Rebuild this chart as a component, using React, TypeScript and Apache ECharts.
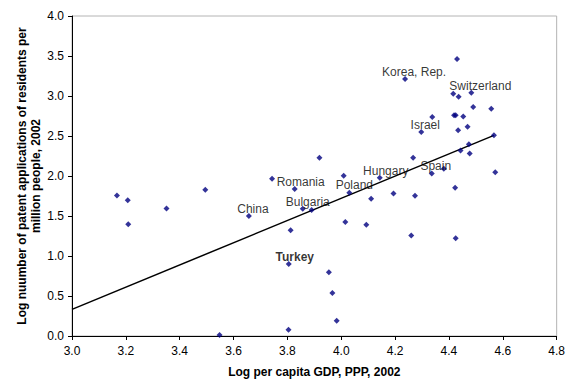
import React, { useEffect, useRef } from "react";
import * as echarts from "echarts";

const gdp = [
  3.167, 3.207, 3.209, 3.351, 3.495, 3.548, 3.657, 3.743, 3.827, 3.812,
  3.857, 3.89, 3.805, 3.804, 3.919, 4.009, 4.03, 4.015, 4.093, 4.111,
  4.143, 4.194, 4.26, 4.274, 4.267, 4.336, 4.381, 4.423, 4.425, 4.572,
  3.954, 3.967, 3.983, 4.237, 4.43, 4.416, 4.436, 4.483, 4.49, 4.557,
  4.338, 4.419, 4.425, 4.453, 4.297, 4.434, 4.469, 4.567, 4.474, 4.443,
  4.477,
];
const patents = [
  1.757, 1.698, 1.396, 1.595, 1.828, 0.012, 1.499, 1.965, 1.836, 1.321,
  1.591, 1.574, 0.901, 0.079, 2.227, 2.002, 1.791, 1.424, 1.392, 1.716,
  1.978, 1.782, 1.255, 1.753, 2.227, 2.031, 2.09, 1.853, 1.221, 2.047,
  0.798, 0.536, 0.191, 3.211, 3.464, 3.028, 2.991, 3.04, 2.862, 2.841,
  2.738, 2.758, 2.758, 2.745, 2.551, 2.571, 2.617, 2.508, 2.396, 2.318,
  2.28,
];
const countryNames = [
  "", "", "", "", "", "", "China", "", "Romania", "",
  "Bulgaria", "", "Turkey", "", "", "", "Poland", "", "", "",
  "Hungary", "", "", "", "", "Spain", "", "", "", "",
  "", "", "", "Korea, Rep.", "", "", "", "Switzerland", "", "",
  "", "", "", "", "Israel", "", "", "", "", "",
  "",
];
const trendX = [3.0, 4.567];
const trendY = [0.333, 2.508];
const xTicks = [3.0, 4.8, 0.2];
const yTicks = [0, 4, 0.5];

const labelOffsets: Record<string, [number, number]> = {
  China: [4, -7],
  Romania: [6, -7],
  Bulgaria: [5, -7],
  Turkey: [6, -7],
  Poland: [5, -8],
  Hungary: [6, -7],
  Spain: [4, -8],
  "Korea, Rep.": [9, -7],
  Switzerland: [9, -7],
  Israel: [4, -7],
};

export default function App() {
  const ref = useRef<HTMLDivElement>(null);
  useEffect(() => {
    if (!ref.current) return;
    const chart = echarts.init(ref.current, null, { renderer: "svg" });
    const font = "Liberation Sans, Arial, sans-serif";
    const points = gdp.map((x, i) => {
      const name = countryNames[i];
      const item: any = { value: [x, patents[i]] };
      if (name) {
        item.label = {
          show: true,
          formatter: name,
          position: "inside",
          offset: labelOffsets[name] || [0, -7],
          color: "#000",
          fontSize: 12,
          fontFamily: font,
          fontWeight: name === "Turkey" ? "bold" : "normal",
        };
      }
      return item;
    });
    chart.setOption({
      animation: false,
      backgroundColor: "#fff",
      grid: {
        left: 72,
        right: 10,
        top: 16,
        bottom: 46,
        show: true,
        borderColor: "#b4b4b4",
        borderWidth: 1,
      },
      xAxis: {
        type: "value",
        min: xTicks[0],
        max: xTicks[1],
        interval: xTicks[2],
        name: "Log per capita GDP, PPP, 2002",
        nameLocation: "middle",
        nameGap: 30,
        nameMoveOverlap: false,
        nameTextStyle: { fontFamily: font, fontSize: 12, fontWeight: "bold", color: "#000" },
        splitLine: { show: false },
        axisLine: { show: true, onZero: false, lineStyle: { color: "#000", width: 1 } },
        axisTick: { show: true, length: 4, lineStyle: { color: "#000" } },
        axisLabel: {
          margin: 9,
          fontFamily: font,
          fontSize: 12,
          color: "#000",
          formatter: (v: number) => v.toFixed(1),
        },
      },
      yAxis: {
        type: "value",
        min: yTicks[0],
        max: yTicks[1],
        interval: yTicks[2],
        name: "Log nuumber of patent applications of residents per\nmillion people, 2002",
        nameLocation: "middle",
        nameGap: 29,
        nameMoveOverlap: false,
        nameTextStyle: { fontFamily: font, fontSize: 12, fontWeight: "bold", color: "#000", lineHeight: 14 },
        splitLine: { show: false },
        axisLine: { show: true, onZero: false, lineStyle: { color: "#000", width: 1 } },
        axisTick: { show: true, length: 4, lineStyle: { color: "#000" } },
        axisLabel: {
          margin: 8,
          fontFamily: font,
          fontSize: 12,
          color: "#000",
          formatter: (v: number) => v.toFixed(1),
        },
      },
      series: [
        {
          type: "line",
          data: trendX.map((x, i) => [x, trendY[i]]),
          showSymbol: false,
          symbol: "none",
          lineStyle: { color: "#000", width: 1.5 },
          z: 1,
        },
        {
          type: "scatter",
          data: points,
          symbol: "diamond",
          symbolSize: 6,
          itemStyle: { color: "#000080" },
          z: 3,
        },
      ],
    });
    return () => chart.dispose();
  }, []);
  return (
    <div
      ref={ref}
      style={{ position: "fixed", left: 0, top: 0, width: 568, height: 383, background: "#fff" }}
    />
  );
}
